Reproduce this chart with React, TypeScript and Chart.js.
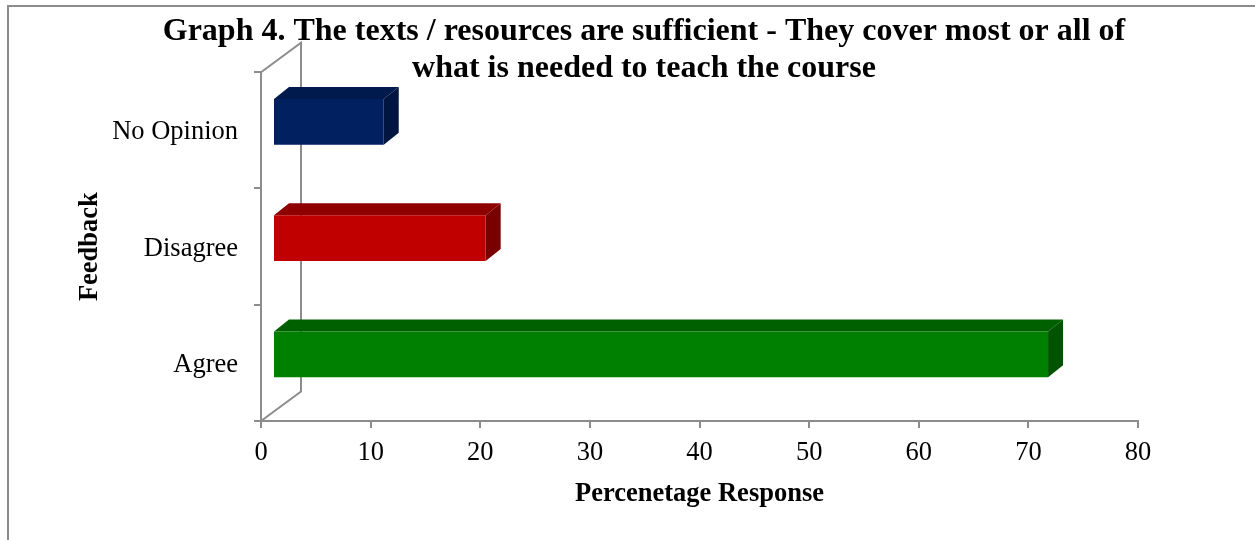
import React, { useEffect, useRef } from "react";
import { Chart, registerables } from "chart.js";

Chart.register(...registerables);

const categories = ["No Opinion", "Disagree", "Agree"];
const responseValues = [10.1, 19.4, 70.7];
const titleLines = [
  "Graph 4. The texts / resources are sufficient - They cover most or all of",
  "what is needed to teach the course",
];
const xTitle = "Percenetage Response";
const yTitle = "Feedback";
const frontColors = ["#002060", "#C00000", "#008000"];
const topColors = ["#001A4D", "#8E0000", "#006000"];
const sideColors = ["#001540", "#7A0000", "#005300"];

const AXIS = "#8C8C8C";
const FONT = "'Liberation Serif', 'Times New Roman', serif";
const DX = 15;
const DY = -12;
const SHIFT_X = 12;
const SHIFT_Y = -8.5;
const WALL_DX = 40;
const WALL_DY = -29.5;

const threeD = {
  id: "threeD",
  afterLayout(chart: any) {
    // The reference title is centred a little right of the page centre.
    chart.titleBlock.left = 33;
    chart.titleBlock.right = 1255;
  },
  beforeDatasetsDraw(chart: any) {
    const { ctx, scales } = chart;
    const x0 = scales.x.getPixelForValue(0);
    const yb = scales.y.bottom;
    const yt = scales.y.top;
    ctx.save();
    ctx.strokeStyle = AXIS;
    ctx.lineWidth = 2;
    ctx.beginPath();
    ctx.moveTo(x0, yb);
    ctx.lineTo(x0 + WALL_DX, yb + WALL_DY);
    ctx.lineTo(x0 + WALL_DX, yt + WALL_DY);
    ctx.lineTo(x0, yt);
    ctx.stroke();
    ctx.restore();
  },
  beforeDatasetDraw(chart: any, args: any) {
    const { ctx } = chart;
    const meta = chart.getDatasetMeta(args.index);
    ctx.save();
    ctx.translate(SHIFT_X, SHIFT_Y);
    meta.data.forEach((bar: any, i: number) => {
      const { x, y, base, height } = bar.getProps(["x", "y", "base", "height"], true);
      const top = y - height / 2;
      const bottom = y + height / 2;
      ctx.fillStyle = topColors[i];
      ctx.beginPath();
      ctx.moveTo(base, top);
      ctx.lineTo(base + DX, top + DY);
      ctx.lineTo(x + DX, top + DY);
      ctx.lineTo(x, top);
      ctx.closePath();
      ctx.fill();
      ctx.fillStyle = sideColors[i];
      ctx.beginPath();
      ctx.moveTo(x, top);
      ctx.lineTo(x + DX, top + DY);
      ctx.lineTo(x + DX, bottom + DY);
      ctx.lineTo(x, bottom);
      ctx.closePath();
      ctx.fill();
    });
  },
  afterDatasetDraw(chart: any) {
    chart.ctx.restore();
  },
};

export default function App() {
  const ref = useRef<HTMLCanvasElement>(null);
  useEffect(() => {
    document.body.style.margin = "0";
    document.body.style.background = "#fff";
    const chart = new Chart(ref.current!, {
      type: "bar",
      data: {
        labels: categories,
        datasets: [
          {
            data: responseValues,
            backgroundColor: frontColors,
            borderWidth: 0,
            barPercentage: 0.395,
            categoryPercentage: 1,
            clip: false,
          } as any,
        ],
      },
      plugins: [threeD],
      options: {
        indexAxis: "y",
        animation: false,
        responsive: false,
        layout: { padding: { left: 0, right: 117, top: 0, bottom: 0 } },
        plugins: {
          legend: { display: false },
          tooltip: { enabled: false },
          title: {
            display: true,
            text: titleLines,
            color: "#000",
            align: "center",
            font: { family: FONT, size: 32, weight: "bold", lineHeight: 1.16 },
            padding: { top: 13, bottom: -15 },
          },
        },
        scales: {
          x: {
            type: "linear",
            min: 0,
            max: 80,
            grid: {
              display: true,
              drawOnChartArea: false,
              drawTicks: true,
              tickLength: 7,
              color: AXIS,
              lineWidth: 2,
            },
            border: { display: true, color: AXIS, width: 2 },
            ticks: {
              stepSize: 10,
              color: "#000",
              maxRotation: 0,
              padding: 9,
              font: { family: FONT, size: 26.5 },
            },
            title: {
              display: true,
              text: xTitle,
              color: "#000",
              font: { family: FONT, size: 26.5, weight: "bold" },
              padding: { top: 8, bottom: 30 },
            },
            afterFit(s: any) {
              s.height = 119;
            },
          },
          y: {
            type: "category",
            grid: {
              display: true,
              drawOnChartArea: false,
              drawTicks: true,
              tickLength: 7,
              offset: true,
              color: AXIS,
              lineWidth: 2,
            },
            border: { display: true, color: AXIS, width: 2 },
            ticks: {
              color: "#000",
              padding: 16,
              labelOffset: 2,
              font: { family: FONT, size: 26.5 },
            },
            title: {
              display: true,
              text: yTitle,
              color: "#000",
              font: { family: FONT, size: 26.5, weight: "bold" },
              padding: { top: 74, bottom: 0 },
            },
            afterFit(s: any) {
              s.width = 261;
            },
          },
        },
      },
    } as any);
    return () => chart.destroy();
  }, []);
  return (
    <div style={{ position: "relative", width: 1255, height: 540, overflow: "hidden" }}>
      <canvas ref={ref} width={1255} height={540} style={{ display: "block" }} />
      <div
        style={{
          position: "absolute",
          left: 7,
          top: 5,
          right: 0,
          bottom: 0,
          borderLeft: `2px solid ${AXIS}`,
          borderTop: `2px solid ${AXIS}`,
          pointerEvents: "none",
        }}
      />
    </div>
  );
}
